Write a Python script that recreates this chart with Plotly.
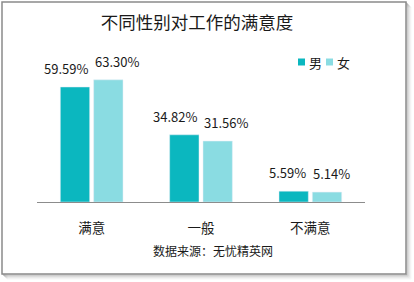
import plotly.graph_objects as go

categories = ["满意", "一般", "不满意"]
male = [59.59, 34.82, 5.59]
female = [63.30, 31.56, 5.14]
series_names = ["男", "女"]
series_colors = ["#0BB7BF", "#8ADCE2"]
title_text = "不同性别对工作的满意度"
source_text = "数据来源：无忧精英网"

W, H = 414, 282
L, R, T, B = 37, 365, 50, 202  # plot area in pixels
PX_PER_UNIT = 1.93
YMAX = (B - T) / PX_PER_UNIT

def px(x):
    return (x - L) / (R - L)

def py(y):
    return (B - y) / (B - T)

FONT = "Noto Sans CJK SC, Microsoft YaHei, sans-serif"
TXT = "#1a1a1a"

fig = go.Figure()
for name, vals, col in [(series_names[0], male, series_colors[0]), (series_names[1], female, series_colors[1])]:
    fig.add_trace(go.Bar(
        x=categories, y=vals, name=name, marker_color=col,
        cliponaxis=False, showlegend=False,
    ))

shapes = []
# shadow
for i, op in enumerate([0.35, 0.25, 0.16, 0.09, 0.04]):
    d = i + 1
    shapes.append(dict(type="rect", xref="paper", yref="paper",
                       x0=px(2 + d), x1=px(406 + d), y0=py(274 + d), y1=py(2 + d),
                       line=dict(color=f"rgba(80,80,80,{op})", width=1), layer="below"))
shapes.append(dict(type="rect", xref="paper", yref="paper",
                   x0=px(2), x1=px(406), y0=py(274), y1=py(2),
                   line=dict(color="#8a8a8a", width=1.5), fillcolor="white", layer="below"))

annotations = [dict(text=source_text, xref="paper", yref="paper", x=px(213), y=py(250),
                    xanchor="center", yanchor="middle", showarrow=False,
                    font=dict(size=12, color=TXT, family=FONT))]

# value labels: male right-aligned near its bar, female left-aligned near its bar
for cat, v in zip(categories, male):
    annotations.append(dict(text=f"{v:.2f}%", x=cat, y=v, xref="x", yref="y",
                            xanchor="right", yanchor="bottom", xshift=-2, yshift=7,
                            showarrow=False, font=dict(size=13, color=TXT, family=FONT)))
for cat, v in zip(categories, female):
    annotations.append(dict(text=f"{v:.2f}%", x=cat, y=v, xref="x", yref="y",
                            xanchor="left", yanchor="bottom", xshift=1, yshift=7,
                            showarrow=False, font=dict(size=13, color=TXT, family=FONT)))

# legend (small squares + labels)
leg_x = [298, 326]
leg_y = 62
for lx, name, col in zip(leg_x, series_names, series_colors):
    shapes.append(dict(type="rect", xref="paper", yref="paper",
                       x0=px(lx), x1=px(lx + 7), y0=py(leg_y + 3.5), y1=py(leg_y - 3.5),
                       line=dict(width=0), fillcolor=col))
    annotations.append(dict(text=name, xref="paper", yref="paper", x=px(lx + 9), y=py(leg_y),
                            xanchor="left", yanchor="middle", showarrow=False,
                            font=dict(size=13, color=TXT, family=FONT)))

fig.update_layout(
    width=W, height=H,
    margin=dict(l=L, r=W - R, t=T, b=H - B, pad=0),
    paper_bgcolor="white", plot_bgcolor="rgba(0,0,0,0)",
    barmode="group", bargap=0.39, bargroupgap=0.12,
    font=dict(family=FONT, color=TXT),
    title=dict(text=title_text, x=197 / W, xanchor="center", y=1 - 23 / H, yanchor="middle",
               font=dict(size=17.5, color=TXT, family=FONT)),
    showlegend=False,
    xaxis=dict(showgrid=False, showline=True, linecolor="#8c8c8c", linewidth=1.2,
               ticks="", tickfont=dict(size=13.5, color=TXT, family=FONT),
               ticklabelstandoff=14, fixedrange=True, automargin=False),
    yaxis=dict(range=[0, YMAX], visible=False, fixedrange=True, automargin=False),
    shapes=shapes,
    annotations=annotations,
)

fig.write_html("out.html", config={"displayModeBar": False},
               post_script="document.body.style.margin='0';document.body.style.padding='0';document.body.style.overflow='hidden';")
